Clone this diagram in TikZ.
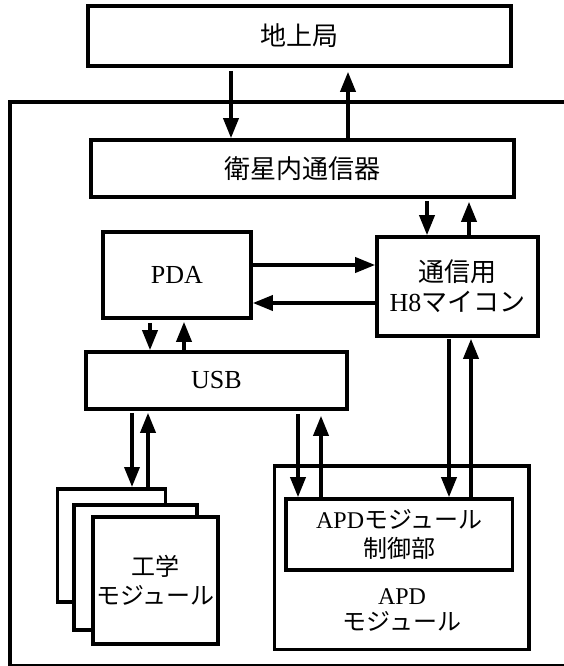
\documentclass[tikz,border=0pt]{standalone}
\usepackage{fontspec}
\setmainfont{Liberation Serif}
\newfontfamily\jpf{Noto Sans CJK JP}
\newcommand\jp[1]{{\jpf #1}}
\usetikzlibrary{arrows.meta}
\begin{document}
\begin{tikzpicture}[x=1pt,y=-1pt,
  box/.style={draw, line width=3.6pt, fill=white, inner sep=0pt, align=center,
    font=\fontsize{26}{30}\selectfont},
  smallbox/.style={box, font=\fontsize{24}{29}\selectfont},
  lbl/.style={inner sep=0pt, align=center},
  arr/.style={line width=3.6pt, -{Triangle[length=20pt,width=15pt]}},
]
\useasboundingbox (0,0) rectangle (564,666);
\fill[white] (0,0) rectangle (564,666);

% outer frame (right side outside the picture)
\draw[line width=3.6pt] (620,102) -- (10,102) -- (10,666) -- (620,666);

% x positions of the vertical connectors
\coordinate (xa) at (231,0);
\coordinate (xb) at (348,0);
\coordinate (xc) at (427,0);
\coordinate (xd) at (469,0);
\coordinate (xe) at (150,0);
\coordinate (xf) at (184,0);
\coordinate (xg) at (132,0);
\coordinate (xh) at (148,0);
\coordinate (xi) at (298,0);
\coordinate (xj) at (321,0);
\coordinate (xk) at (449,0);
\coordinate (xl) at (471,0);
\coordinate (ya) at (0,265);
\coordinate (yb) at (0,303);

% boxes
\node[box, minimum width=423pt, minimum height=60pt] (ground) at (299.5,36) {\jp{地上局}};
\node[box, minimum width=423pt, minimum height=57pt] (sat) at (302.5,168.5) {\jp{衛星内通信器}};
\node[box, minimum width=148pt, minimum height=86pt] (pda) at (177,275) {PDA};
\node[box, minimum width=161pt, minimum height=99pt] (h8) at (457.5,286.5) {\jp{通信用}\\H8\jp{マイコン}};
\node[box, minimum width=261pt, minimum height=57pt] (usb) at (216.5,380.5) {USB};

\node[box, minimum width=108pt, minimum height=113pt] (mod1) at (111.5,545.3) {};
\node[box, minimum width=123pt, minimum height=125pt] (mod2) at (135.4,567.5) {};
\node[smallbox, minimum width=125pt, minimum height=127pt] (mod3) at (155.2,580.5) {\jp{工学}\\\jp{モジュール}};

\node[box, minimum width=254.5pt, minimum height=183.6pt] (apdmod) at (401.75,557.5) {};
\node[smallbox, minimum width=226.6pt, minimum height=71pt] (ctrl) at (399.3,534.5) {APD\jp{モジュール}\\\jp{制御部}};
\node[lbl, font=\fontsize{24}{26}\selectfont] (apdlabel) at (402,610) {APD\\\jp{モジュール}};

% connectors
\draw[arr, shorten <=3pt] (ground.south -| xa) -- (sat.north -| xa);
\draw[arr, shorten >=4pt] (sat.north -| xb) -- (ground.south -| xb);
\draw[arr, shorten <=2pt] (sat.south -| xc) -- (h8.north -| xc);
\draw[arr, shorten >=3pt] (h8.north -| xd) -- (sat.south -| xd);
\draw[arr] (pda.east |- ya) -- (h8.west |- ya);
\draw[arr] (h8.west |- yb) -- (pda.east |- yb);
\draw[arr, shorten <=3pt] (pda.south -| xe) -- (usb.north -| xe);
\draw[arr, shorten >=2pt] (usb.north -| xf) -- (pda.south -| xf);
\draw[arr, shorten <=2pt] (usb.south -| xg) -- (mod1.north -| xg);
\draw[arr, shorten >=2pt] (mod1.north -| xh) -- (usb.south -| xh);
\draw[arr, shorten <=3pt] (usb.south -| xi) -- (ctrl.north -| xi);
\draw[arr, shorten >=5pt] (ctrl.north -| xj) -- (usb.south -| xj);
\draw[arr, shorten <=1pt] (h8.south -| xk) -- (ctrl.north -| xk);
\draw[arr, shorten >=1pt] (ctrl.north -| xl) -- (h8.south -| xl);
\end{tikzpicture}
\end{document}
